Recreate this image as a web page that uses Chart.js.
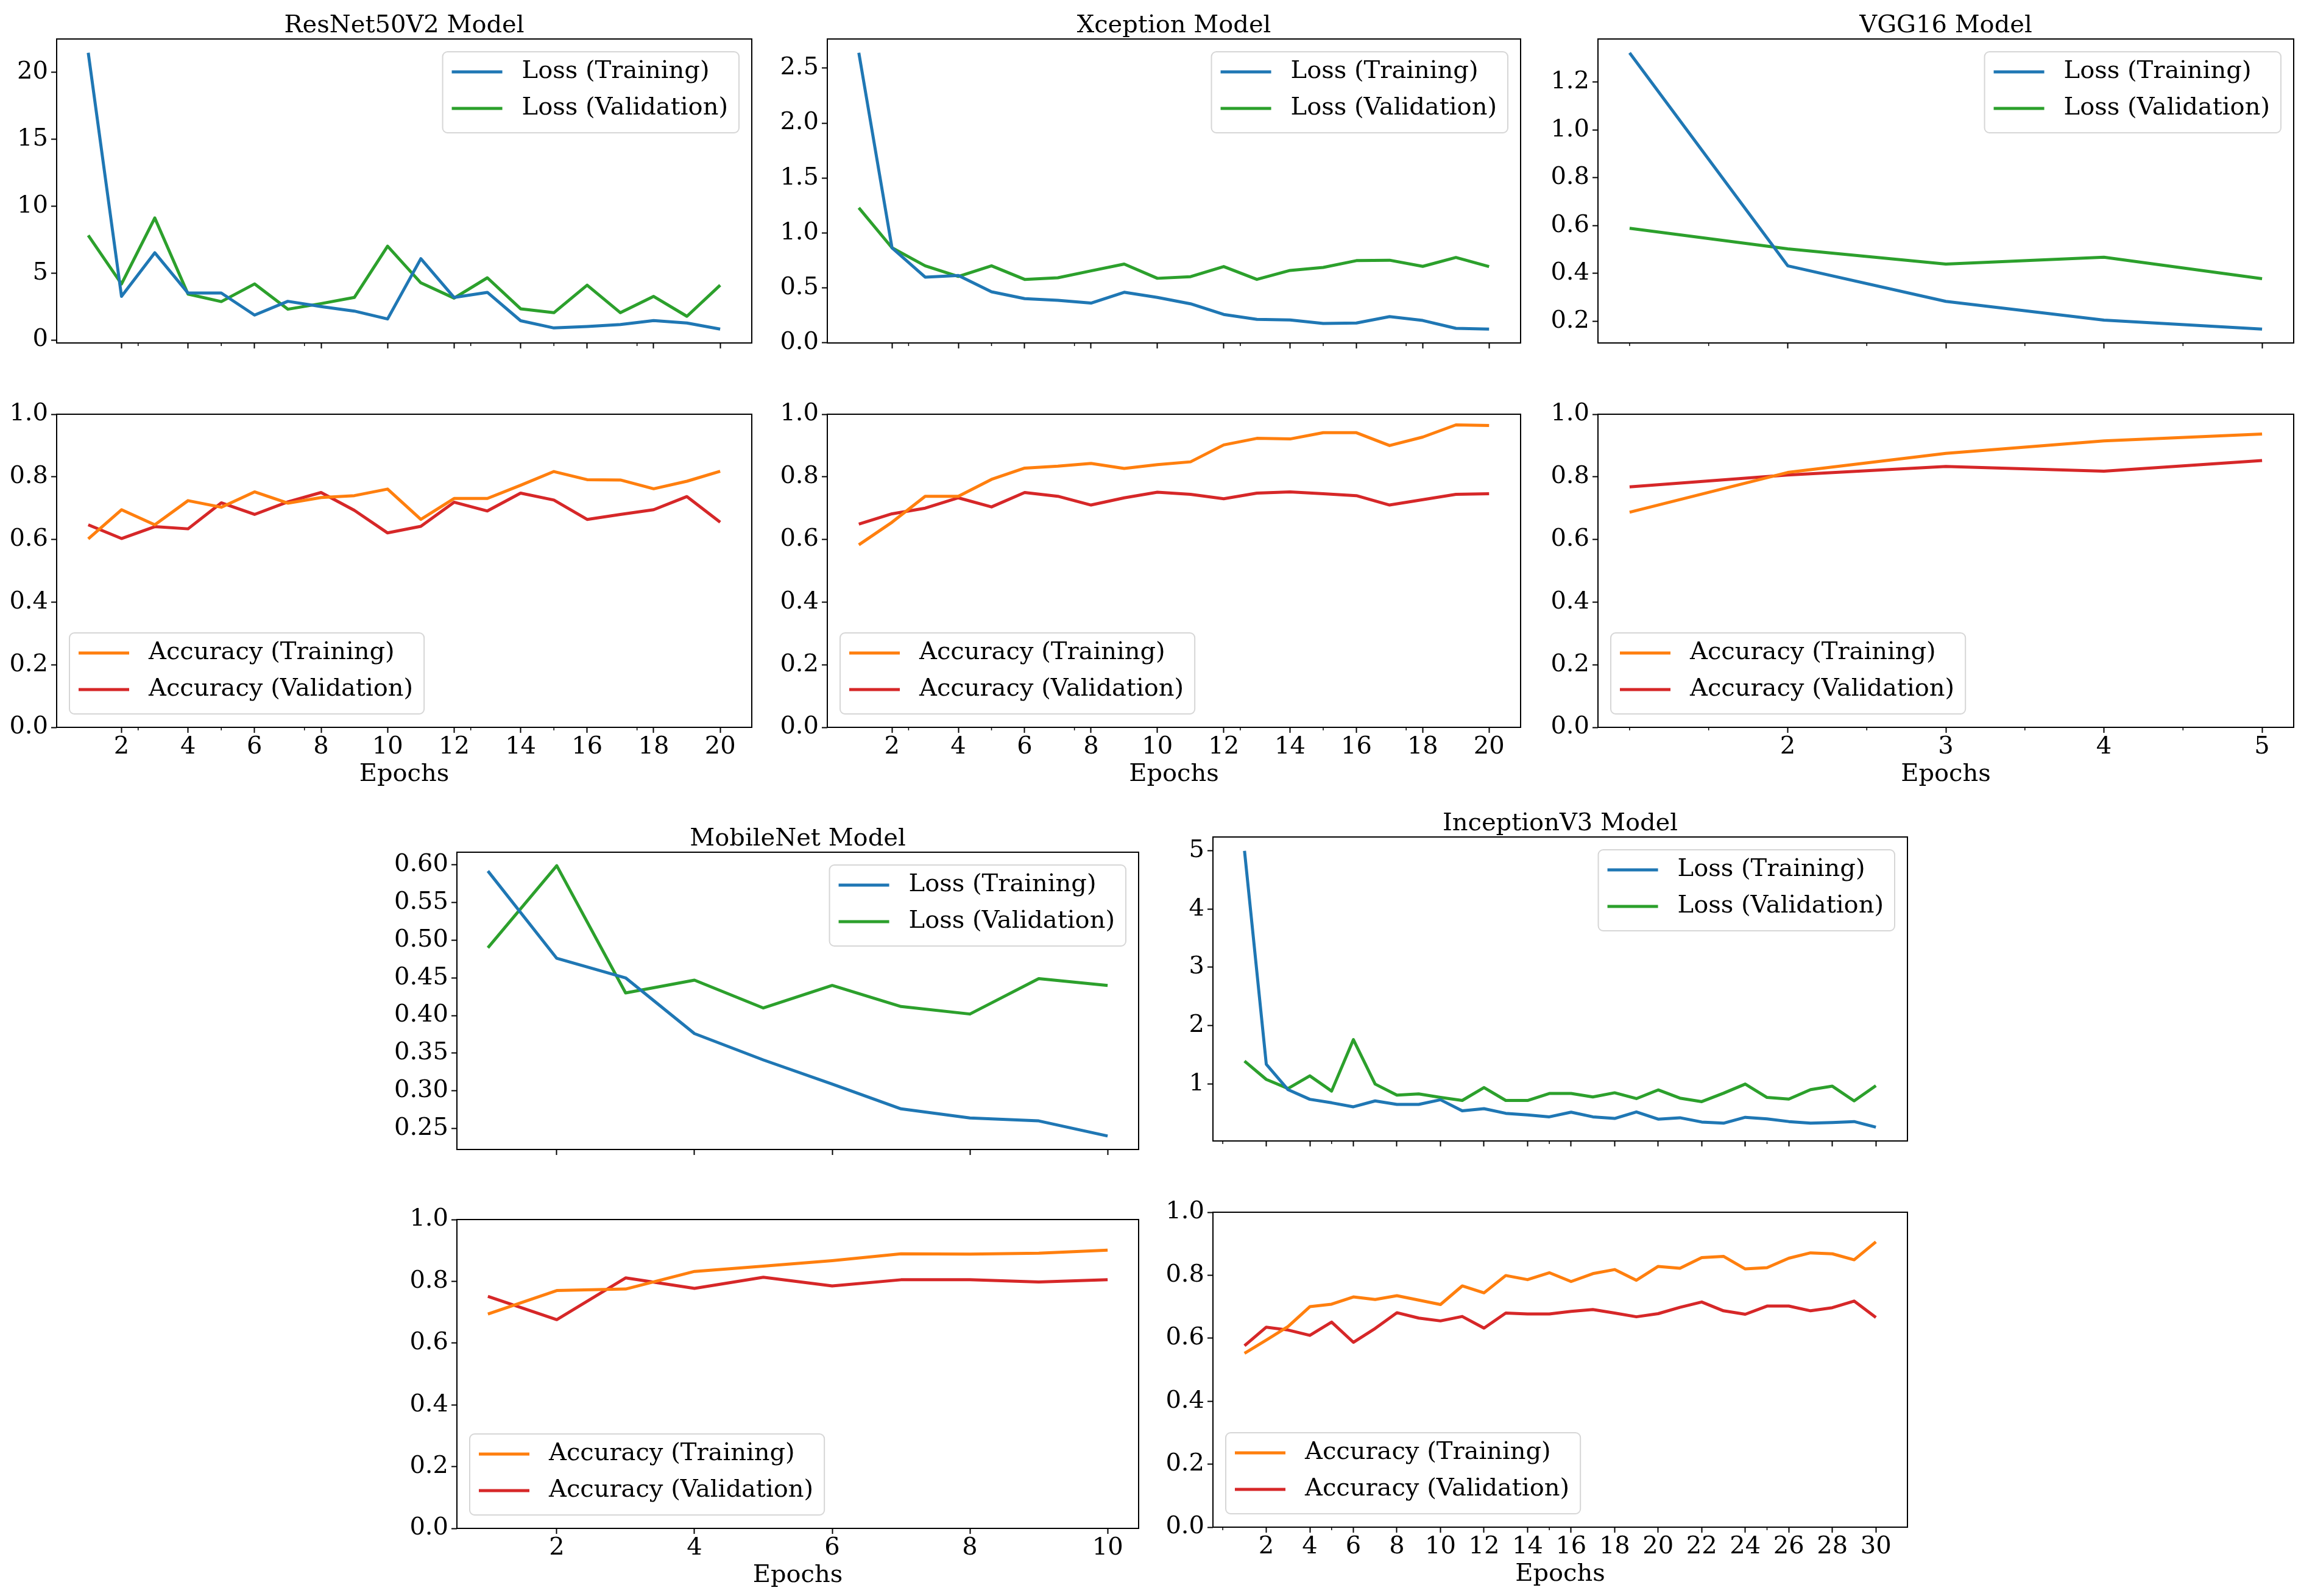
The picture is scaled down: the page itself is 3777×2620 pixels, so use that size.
<!DOCTYPE html>
<html>
<head>
<meta charset="utf-8">
<script src="https://cdn.jsdelivr.net/npm/chart.js@4.4.0/dist/chart.umd.min.js"></script>
<style>
  body { margin: 0; background: #fff; width: 3777px; height: 2620px; position: relative; overflow: hidden; }
  canvas { position: absolute; }
</style>
</head>
<body>
<script>
const FONT = 'DejaVu Serif';
const FS = 40;
const BLUE = '#1f77b4', ORANGE = '#ff7f0e', GREEN = '#2ca02c', RED = '#d62728';

// epochs
const epochs20 = [1, 2, 3, 4, 5, 6, 7, 8, 9, 10, 11, 12, 13, 14, 15, 16, 17, 18, 19, 20];
const epochs5 = [1, 2, 3, 4, 5];
const epochs10 = [1, 2, 3, 4, 5, 6, 7, 8, 9, 10];
const epochs30 = [1, 2, 3, 4, 5, 6, 7, 8, 9, 10, 11, 12, 13, 14, 15, 16, 17, 18, 19, 20,
                  21, 22, 23, 24, 25, 26, 27, 28, 29, 30];

// ResNet50V2
const resnetLossTrain = [21.47, 3.26, 6.52, 3.51, 3.51, 1.86, 2.89, 2.50, 2.16, 1.57, 6.08, 3.18, 3.56, 1.44, 0.90, 1.01, 1.15, 1.45, 1.27, 0.81];
const resnetLossVal = [7.82, 4.19, 9.12, 3.43, 2.87, 4.19, 2.30, 2.72, 3.18, 7.01, 4.27, 3.13, 4.65, 2.33, 2.04, 4.10, 2.04, 3.26, 1.77, 4.10];
const resnetAccTrain = [0.602, 0.695, 0.647, 0.724, 0.703, 0.752, 0.716, 0.734, 0.740, 0.761, 0.664, 0.731, 0.731, 0.773, 0.817, 0.791, 0.790, 0.762, 0.786, 0.818];
const resnetAccVal = [0.647, 0.603, 0.641, 0.634, 0.717, 0.680, 0.720, 0.750, 0.693, 0.621, 0.642, 0.719, 0.691, 0.748, 0.726, 0.664, 0.680, 0.695, 0.737, 0.655];

// Xception
const xceptionLossTrain = [2.64, 0.864, 0.597, 0.611, 0.463, 0.401, 0.385, 0.360, 0.459, 0.412, 0.354, 0.257, 0.212, 0.206, 0.175, 0.179, 0.237, 0.202, 0.130, 0.123];
const xceptionLossVal = [1.228, 0.864, 0.700, 0.603, 0.700, 0.576, 0.591, 0.654, 0.716, 0.586, 0.601, 0.693, 0.576, 0.658, 0.685, 0.747, 0.751, 0.695, 0.776, 0.693];
const xceptionAccTrain = [0.583, 0.655, 0.738, 0.738, 0.792, 0.828, 0.834, 0.843, 0.827, 0.839, 0.848, 0.902, 0.923, 0.921, 0.941, 0.941, 0.900, 0.927, 0.966, 0.964];
const xceptionAccVal = [0.649, 0.682, 0.700, 0.733, 0.704, 0.750, 0.738, 0.710, 0.733, 0.751, 0.744, 0.730, 0.748, 0.752, 0.746, 0.740, 0.710, 0.727, 0.744, 0.746];

// VGG16
const vggLossTrain = [1.323, 0.432, 0.283, 0.205, 0.167];
const vggLossVal = [0.589, 0.503, 0.439, 0.468, 0.378];
const vggAccTrain = [0.687, 0.814, 0.875, 0.915, 0.937];
const vggAccVal = [0.768, 0.806, 0.833, 0.818, 0.852];

// MobileNet
const mobileLossTrain = [0.592, 0.476, 0.450, 0.376, 0.341, 0.309, 0.276, 0.264, 0.260, 0.240];
const mobileLossVal = [0.490, 0.599, 0.430, 0.447, 0.410, 0.440, 0.412, 0.402, 0.449, 0.440];
const mobileAccTrain = [0.694, 0.770, 0.775, 0.832, 0.849, 0.867, 0.889, 0.888, 0.891, 0.901];
const mobileAccVal = [0.751, 0.676, 0.811, 0.777, 0.813, 0.785, 0.805, 0.805, 0.798, 0.805];

// InceptionV3
const inceptionLossTrain = [5.00, 1.337, 0.900, 0.735, 0.675, 0.606, 0.707, 0.647, 0.647, 0.727, 0.538, 0.574, 0.494, 0.466, 0.434,
                            0.514, 0.434, 0.406, 0.518, 0.394, 0.418, 0.345, 0.325, 0.426, 0.398, 0.353, 0.325, 0.337, 0.353, 0.257];
const inceptionLossVal = [1.390, 1.076, 0.920, 1.137, 0.876, 1.759, 0.996, 0.807, 0.827, 0.767, 0.715, 0.936, 0.715, 0.715, 0.835,
                          0.835, 0.775, 0.847, 0.747, 0.896, 0.755, 0.695, 0.839, 0.996, 0.767, 0.739, 0.900, 0.960, 0.707, 0.968];
const inceptionAccTrain = [0.552, 0.594, 0.637, 0.700, 0.708, 0.731, 0.723, 0.735, 0.721, 0.707, 0.766, 0.744, 0.799, 0.786, 0.808,
                           0.780, 0.805, 0.818, 0.784, 0.828, 0.822, 0.856, 0.860, 0.820, 0.824, 0.854, 0.871, 0.868, 0.849, 0.906];
const inceptionAccVal = [0.576, 0.635, 0.626, 0.609, 0.651, 0.587, 0.631, 0.681, 0.664, 0.655, 0.669, 0.632, 0.680, 0.677, 0.677,
                         0.685, 0.691, 0.680, 0.668, 0.678, 0.698, 0.715, 0.687, 0.676, 0.702, 0.702, 0.687, 0.697, 0.718, 0.666];

// tick labels
const resnetLossTicks = ['0', '5', '10', '15', '20'];
const xceptionLossTicks = ['0.0', '0.5', '1.0', '1.5', '2.0', '2.5'];
const vggLossTicks = ['0.2', '0.4', '0.6', '0.8', '1.0', '1.2'];
const mobileLossTicks = ['0.25', '0.30', '0.35', '0.40', '0.45', '0.50', '0.55', '0.60'];
const inceptionLossTicks = ['1', '2', '3', '4', '5'];
const accTicks = ['0.0', '0.2', '0.4', '0.6', '0.8', '1.0'];

const xTicks20 = [2, 4, 6, 8, 10, 12, 14, 16, 18, 20];
const xTicks5 = [2, 3, 4, 5];
const xTicks10 = [2, 4, 6, 8, 10];
const xTicks30 = [2, 4, 6, 8, 10, 12, 14, 16, 18, 20, 22, 24, 26, 28, 30];
const minor20 = [2.5, 5, 7.5, 12.5, 15, 17.5];
const minor5 = [1, 1.5, 2.5, 3.5, 4.5];
const minor30 = [0, 5, 15, 25];

const YW = 170, PR = 40;

// frame, minor ticks, title and boxed legend
const decor = {
  id: 'decor',
  afterDraw(chart, args, o) {
    const ctx = chart.ctx, a = chart.chartArea;
    ctx.save();
    // minor ticks
    const xs = chart.scales.x;
    ctx.strokeStyle = '#000';
    ctx.lineWidth = 1.5;
    (o.minor || []).forEach(v => {
      const px = xs.getPixelForValue(v);
      ctx.beginPath(); ctx.moveTo(px, a.bottom); ctx.lineTo(px, a.bottom + 5); ctx.stroke();
    });
    // frame
    ctx.lineWidth = 2;
    ctx.strokeRect(a.left, a.top, a.right - a.left, a.bottom - a.top);
    // title
    ctx.font = FS + 'px "' + FONT + '"';
    ctx.fillStyle = '#000';
    if (o.title) {
      ctx.textAlign = 'center';
      ctx.textBaseline = 'alphabetic';
      ctx.fillText(o.title, (a.left + a.right) / 2, a.top - 11);
    }
    // legend
    const ds = chart.data.datasets;
    const tw = Math.max(...ds.map(d => ctx.measureText(d.label).width));
    const w = 130 + tw + 18, h = 133;
    const x = o.corner === 'ur' ? a.right - 21 - w : a.left + 21;
    const y = o.corner === 'ur' ? a.top + 21 : a.bottom - 22 - h;
    ctx.beginPath();
    ctx.roundRect(x, y, w, h, 8);
    ctx.fillStyle = 'rgba(255,255,255,0.8)';
    ctx.fill();
    ctx.strokeStyle = 'rgba(204,204,204,0.8)';
    ctx.lineWidth = 2;
    ctx.stroke();
    ds.forEach((d, i) => {
      const cy = y + 33 + i * 60;
      ctx.strokeStyle = d.borderColor;
      ctx.lineWidth = 5;
      ctx.beginPath(); ctx.moveTo(x + 15, cy); ctx.lineTo(x + 98, cy); ctx.stroke();
      ctx.fillStyle = '#000';
      ctx.textAlign = 'left';
      ctx.textBaseline = 'middle';
      ctx.fillText(d.label, x + 130, cy);
    });
    ctx.restore();
  }
};

function series(xs, ys, label, color) {
  return {
    label: label,
    data: xs.map((x, i) => ({ x: x, y: ys[i] })),
    borderColor: color,
    backgroundColor: color,
    borderWidth: 5,
    borderJoinStyle: 'round',
    pointRadius: 0,
    tension: 0,
    fill: false
  };
}

function padRange(vals) {
  const lo = Math.min(...vals), hi = Math.max(...vals), p = (hi - lo) * 0.05;
  return [lo - p, hi + p];
}

function addChart(box, epochs, datasets, yTicks, yRange, xTicks, minor, withLabels, title, corner) {
  const PT = title ? 70 : 30;
  const XH = withLabels ? 110 : 12;
  const cv = document.createElement('canvas');
  const W = YW + box.w + PR, H = PT + box.h + XH;
  cv.width = W; cv.height = H;
  cv.style.left = (box.left - YW) + 'px';
  cv.style.top = (box.top - PT) + 'px';
  cv.style.width = W + 'px';
  cv.style.height = H + 'px';
  document.body.appendChild(cv);

  const xr = padRange(epochs);
  const tickFont = { family: FONT, size: FS };
  new Chart(cv, {
    type: 'line',
    data: { datasets: datasets },
    options: {
      responsive: false,
      devicePixelRatio: 1,
      animation: false,
      events: [],
      layout: { padding: { top: PT, right: PR, left: 0, bottom: 0 } },
      plugins: {
        legend: { display: false },
        tooltip: { enabled: false },
        decor: { title: title, corner: corner, minor: minor }
      },
      scales: {
        x: {
          type: 'linear',
          min: xr[0], max: xr[1],
          afterBuildTicks: s => { s.ticks = xTicks.map(v => ({ value: v })); },
          afterFit: s => { s.height = XH; },
          ticks: {
            display: withLabels, font: tickFont, color: '#000', padding: 0,
            maxRotation: 0, autoSkip: false, callback: v => String(v)
          },
          grid: { drawOnChartArea: false, drawTicks: true, tickLength: 9, tickWidth: 2, tickColor: '#000' },
          border: { display: false },
          title: { display: withLabels, text: 'Epochs', font: tickFont, color: '#000', padding: { top: 0, bottom: 8 } }
        },
        y: {
          type: 'linear',
          min: yRange[0], max: yRange[1],
          afterBuildTicks: s => { s.ticks = yTicks.map(t => ({ value: parseFloat(t) })); },
          afterFit: s => { s.width = YW; },
          ticks: { font: tickFont, color: '#000', padding: 5, autoSkip: false, callback: (v, i) => yTicks[i] },
          grid: { drawOnChartArea: false, drawTicks: true, tickLength: 9, tickWidth: 2, tickColor: '#000' },
          border: { display: false }
        }
      }
    },
    plugins: [decor]
  });
}

function lossChart(box, epochs, train, val, yTicks, xTicks, minor, title) {
  addChart(box, epochs,
    [series(epochs, train, 'Loss (Training)', BLUE), series(epochs, val, 'Loss (Validation)', GREEN)],
    yTicks, padRange(train.concat(val)), xTicks, minor, false, title, 'ur');
}

function accChart(box, epochs, train, val, xTicks, minor) {
  addChart(box, epochs,
    [series(epochs, train, 'Accuracy (Training)', ORANGE), series(epochs, val, 'Accuracy (Validation)', RED)],
    accTicks, [0, 1], xTicks, minor, true, null, 'll');
}

lossChart({ left: 93, top: 64, w: 1141, h: 516 }, epochs20, resnetLossTrain, resnetLossVal, resnetLossTicks, xTicks20, minor20, 'ResNet50V2 Model');
accChart({ left: 93, top: 680, w: 1141, h: 514 }, epochs20, resnetAccTrain, resnetAccVal, xTicks20, minor20);

lossChart({ left: 1358, top: 64, w: 1138, h: 516 }, epochs20, xceptionLossTrain, xceptionLossVal, xceptionLossTicks, xTicks20, minor20, 'Xception Model');
accChart({ left: 1358, top: 680, w: 1138, h: 514 }, epochs20, xceptionAccTrain, xceptionAccVal, xTicks20, minor20);

lossChart({ left: 2623, top: 64, w: 1142, h: 516 }, epochs5, vggLossTrain, vggLossVal, vggLossTicks, xTicks5, minor5, 'VGG16 Model');
accChart({ left: 2623, top: 680, w: 1142, h: 514 }, epochs5, vggAccTrain, vggAccVal, xTicks5, minor5);

lossChart({ left: 750, top: 1399, w: 1119, h: 505 }, epochs10, mobileLossTrain, mobileLossVal, mobileLossTicks, xTicks10, [], 'MobileNet Model');
accChart({ left: 750, top: 2002, w: 1119, h: 507 }, epochs10, mobileAccTrain, mobileAccVal, xTicks10, []);

lossChart({ left: 1991, top: 1374, w: 1140, h: 516 }, epochs30, inceptionLossTrain, inceptionLossVal, inceptionLossTicks, xTicks30, minor30, 'InceptionV3 Model');
accChart({ left: 1991, top: 1990, w: 1140, h: 517 }, epochs30, inceptionAccTrain, inceptionAccVal, xTicks30, minor30);
</script>
</body>
</html>
